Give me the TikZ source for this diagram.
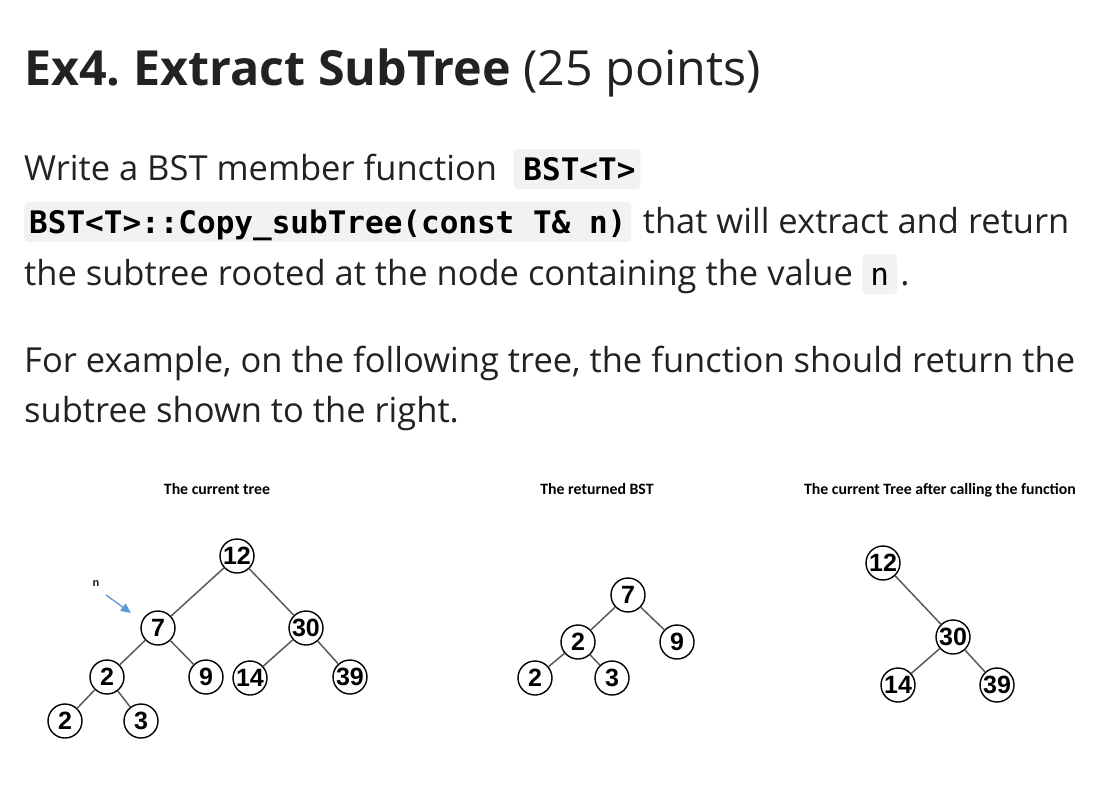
\documentclass[tikz,border=0pt]{standalone}
\usepackage{fontspec}
\setmainfont{Open Sans}
\newfontfamily\codefont{DejaVu Sans Mono}
\newfontfamily\calfont{Carlito}
\newfontfamily\numfont{Liberation Sans}
\usetikzlibrary{arrows.meta}
\definecolor{txt}{HTML}{222222}
\definecolor{codebg}{HTML}{F2F2F2}
\definecolor{edgegray}{HTML}{5A5A5A}
\definecolor{arrowblue}{HTML}{5B9BD5}
\frenchspacing
\begin{document}
\begin{tikzpicture}[x=1pt,y=-1pt,
  txtnode/.style={anchor=base west, inner sep=0pt, text=txt, font=\fontsize{34.5}{40}\selectfont},
  codebox/.style={fill=codebg, rounded corners=4pt, anchor=base west, inner xsep=5pt, inner ysep=0pt,
    text height=31pt, text depth=9pt, text=black, font=\codefont\bfseries\fontsize{31}{36}\selectfont},
  treelabel/.style={anchor=base, inner sep=0pt, text=black, font=\calfont\bfseries\fontsize{15.8}{18}\selectfont},
  bst/.style={circle, draw=black, line width=1.4pt, minimum size=34pt, inner sep=0pt,
    font=\numfont\bfseries\fontsize{25}{25}\selectfont},
  link/.style={draw=edgegray, line width=1.5pt}
]
\useasboundingbox (0,0) rectangle (1117,795);

% title
\node[txtnode, font=\fontsize{48.4}{54}\selectfont] (title) at (24,85)
  {\textbf{Ex4. Extract SubTree} (25 points)};

% paragraph 1
\node[txtnode] (l1) at (24,180) {Write a BST member function};
\node[codebox] (c1) at ([xshift=16pt]l1.base east) {\hspace{5pt}BST<T>\hspace{27pt}};
\node[codebox] (c2) at (24,233) {BST<T>::Copy\_subTree(const T\& n)};
\node[txtnode] (l2) at ([xshift=11pt]c2.base east) {that will extract and return};
\node[txtnode] (l3) at (24,285) {the subtree rooted at the node containing the value};
\node[codebox, inner xsep=8pt, font=\codefont\fontsize{31}{36}\selectfont] (c3) at ([xshift=9pt]l3.base east) {n};
\node[txtnode] (dot) at ([xshift=3pt]c3.base east) {.};

% paragraph 2
\node[txtnode] (p2a) at (24,372) {For example, on the following tree, the function should return the};
\node[txtnode] (p2b) at (24,422) {subtree shown to the right.};

% labels
\node[treelabel] (lab1) at (217,494) {The current tree};
\node[treelabel] (lab2) at (597,494) {The returned BST};
\node[treelabel] (lab3) at (940,494) {The current Tree after calling the function};

% tree 1
\node[bst] (a12) at (237,556) {12};
\node[bst] (a7)  at (158,628) {7};
\node[bst] (a30) at (306,628) {30};
\node[bst] (a2)  at (107,677) {2};
\node[bst] (a9)  at (206,677) {9};
\node[bst] (a14) at (250,678) {14};
\node[bst] (a39) at (350,677) {39};
\node[bst] (a2b) at (65,721) {2};
\node[bst] (a3)  at (141,721) {3};
\draw[link] (a12) -- (a7);
\draw[link] (a12) -- (a30);
\draw[link] (a7) -- (a2);
\draw[link] (a7) -- (a9);
\draw[link] (a30) -- (a14);
\draw[link] (a30) -- (a39);
\draw[link] (a2) -- (a2b);
\draw[link] (a2) -- (a3);

% n pointer
\node[inner sep=0pt, text=black!75!orange!60!black, font=\numfont\bfseries\fontsize{11}{11}\selectfont] (nlab) at (96,584) {n};
\coordinate (nstart) at (106,595);
\coordinate (ntip) at (131,613);
\draw[arrowblue, line width=1.3pt, -{Triangle[length=10pt,width=9pt]}] (nstart) -- (ntip);

% tree 2
\node[bst] (b7) at (628,595) {7};
\node[bst] (b2) at (578,642) {2};
\node[bst] (b9) at (677,642) {9};
\node[bst] (b2b) at (535,678) {2};
\node[bst] (b3) at (612,678) {3};
\draw[link] (b7) -- (b2);
\draw[link] (b7) -- (b9);
\draw[link] (b2) -- (b2b);
\draw[link] (b2) -- (b3);

% tree 3
\node[bst] (c12) at (883,563) {12};
\node[bst] (c30) at (953,637) {30};
\node[bst] (c14) at (898,685) {14};
\node[bst] (c39) at (997,685) {39};
\draw[link] (c12) -- (c30);
\draw[link] (c30) -- (c14);
\draw[link] (c30) -- (c39);
\end{tikzpicture}
\end{document}
